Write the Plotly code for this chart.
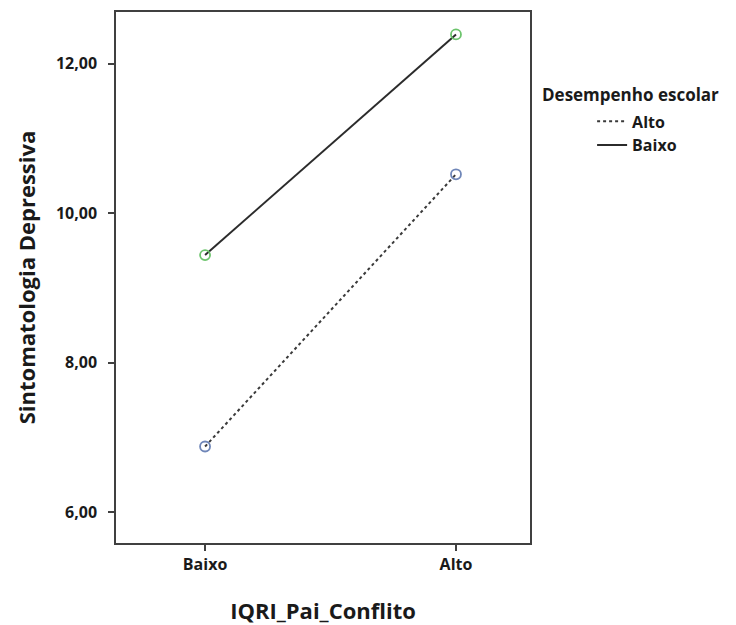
import plotly.graph_objects as go

categories = ["Baixo", "Alto"]
alto_values = [6.88, 10.52]
baixo_values = [9.44, 12.39]
series_names = ["Alto", "Baixo"]
y_tick_vals = [6, 8, 10, 12]
y_tick_text = ["6,00", "8,00", "10,00", "12,00"]

FONT = "Open Sans"
TXT = "#1a1a1a"

fig = go.Figure()

# data lines (no legend)
fig.add_trace(go.Scatter(
    x=categories, y=alto_values, mode="lines+markers", showlegend=False,
    line=dict(color="#3a3a3a", width=2, dash="dot"),
    marker=dict(symbol="circle-open", size=10, color="#6f86b8", line=dict(width=1.8)),
))
fig.add_trace(go.Scatter(
    x=categories, y=baixo_values, mode="lines+markers", showlegend=False,
    line=dict(color="#2b2b2b", width=2),
    marker=dict(symbol="circle-open", size=10, color="#6cc46c", line=dict(width=1.8)),
))
# legend entries (lines only)
fig.add_trace(go.Scatter(x=[None], y=[None], mode="lines", name=series_names[0],
                         line=dict(color="#3a3a3a", width=2, dash="dot")))
fig.add_trace(go.Scatter(x=[None], y=[None], mode="lines", name=series_names[1],
                         line=dict(color="#2b2b2b", width=2)))

fig.update_layout(
    width=728, height=617,
    margin=dict(l=108, r=206, t=2, b=82),
    paper_bgcolor="white", plot_bgcolor="white",
    font=dict(family=FONT, color=TXT),
    showlegend=True,
    legend=dict(
        x=1.15, xanchor="left", y=0.826, yanchor="top",
        font=dict(family=FONT, size=16, color=TXT, weight="bold"),
        itemwidth=30, tracegroupgap=0, bgcolor="rgba(0,0,0,0)",
    ),
    xaxis=dict(
        type="category", range=[-0.355, 1.295],
        showline=True, linecolor="#404040", linewidth=1.5, mirror=True,
        ticks="outside", ticklen=6, tickcolor="#404040", tickwidth=1.5,
        showgrid=False, zeroline=False,
        tickfont=dict(family=FONT, size=16, color=TXT, weight="bold"),
        title=dict(text="IQRI_Pai_Conflito", standoff=31,
                   font=dict(family=FONT, size=22, color=TXT, weight="bold")),
    ),
    yaxis=dict(
        range=[5.59, 12.69],
        tickvals=y_tick_vals, ticktext=y_tick_text,
        showline=True, linecolor="#404040", linewidth=1.5, mirror=True,
        ticks="outside", ticklen=6, tickcolor="#404040", tickwidth=1.5,
        ticklabelstandoff=8,
        showgrid=False, zeroline=False,
        tickfont=dict(family=FONT, size=16, color=TXT, weight="bold"),
        title=dict(text="Sintomatologia Depressiva", standoff=14,
                   font=dict(family=FONT, size=22, color=TXT, weight="bold")),
    ),
    annotations=[dict(
        text="Desempenho escolar", xref="paper", yref="paper",
        x=1.025, xanchor="left", y=(535 - 85) / 533, yanchor="middle",
        showarrow=False, font=dict(family=FONT, size=17, color=TXT, weight="bold"),
    )],
)

fig.write_html("out.html")
